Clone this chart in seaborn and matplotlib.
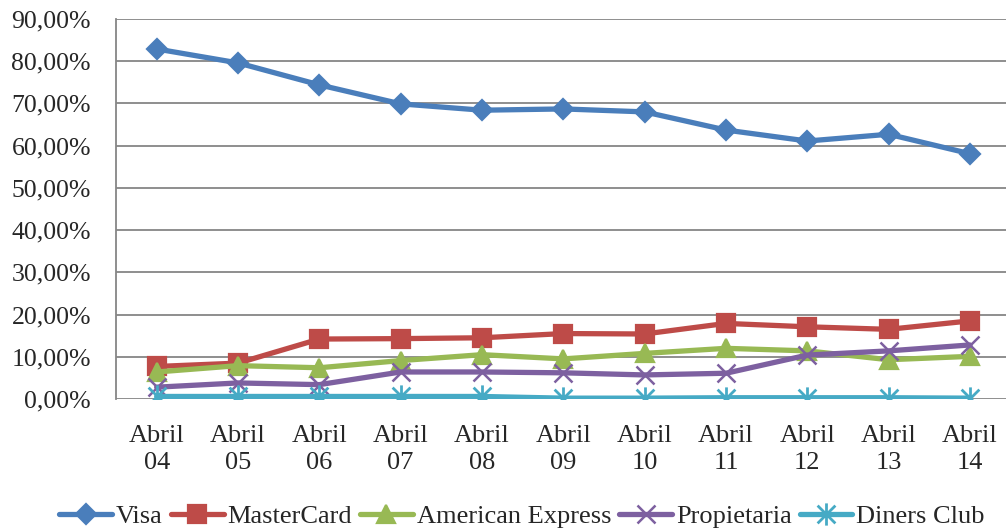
import matplotlib
matplotlib.use("Agg")
import matplotlib.pyplot as plt
import seaborn as sns
import pandas as pd
from matplotlib.ticker import FuncFormatter
from matplotlib.path import Path

categories = ["Abril\n04", "Abril\n05", "Abril\n06", "Abril\n07", "Abril\n08", "Abril\n09",
              "Abril\n10", "Abril\n11", "Abril\n12", "Abril\n13", "Abril\n14"]
visa = [82.9, 79.6, 74.4, 69.9, 68.4, 68.7, 68.0, 63.7, 61.1, 62.7, 58.1]
mastercard = [7.7, 8.5, 14.2, 14.3, 14.5, 15.5, 15.4, 17.9, 17.1, 16.5, 18.5]
amex = [6.4, 7.9, 7.4, 9.1, 10.5, 9.5, 10.8, 12.0, 11.4, 9.3, 10.1]
propietaria = [2.8, 3.8, 3.4, 6.4, 6.4, 6.2, 5.7, 6.1, 10.4, 11.4, 12.8]
diners = [0.6, 0.6, 0.6, 0.6, 0.6, 0.2, 0.2, 0.3, 0.3, 0.3, 0.2]

series = {
    "Visa": visa,
    "MasterCard": mastercard,
    "American Express": amex,
    "Propietaria": propietaria,
    "Diners Club": diners,
}
colors = {
    "Visa": "#4A7EBB",
    "MasterCard": "#BE4B48",
    "American Express": "#98B954",
    "Propietaria": "#7D60A0",
    "Diners Club": "#46AAC5",
}

# asterisk: vertical bar plus an X
ast = Path([(0, -1), (0, 1), (-0.8, -0.8), (0.8, 0.8), (-0.8, 0.8), (0.8, -0.8)],
           [Path.MOVETO, Path.LINETO, Path.MOVETO, Path.LINETO, Path.MOVETO, Path.LINETO])

markers = {
    "Visa": "D",
    "MasterCard": "s",
    "American Express": "^",
    "Propietaria": "x",
    "Diners Club": ast,
}
msizes = {
    "Visa": 10,
    "MasterCard": 13,
    "American Express": 13,
    "Propietaria": 13,
    "Diners Club": 16,
}
mews = {
    "Visa": 1.6,
    "MasterCard": 1.6,
    "American Express": 1.6,
    "Propietaria": 1.8,
    "Diners Club": 2.0,
}

sns.set_style("white")
plt.rcParams["font.family"] = ["Liberation Serif", "DejaVu Serif"]

fig = plt.figure(figsize=(10.06, 5.31), dpi=100)
ax = fig.add_axes([116 / 1006, 1 - 399 / 531, 894.6 / 1006, 380 / 531])

for name, vals in series.items():
    df = pd.DataFrame({"x": categories, "y": vals})
    sns.lineplot(data=df, x="x", y="y", ax=ax, color=colors[name], lw=3.8,
                 marker=markers[name], markersize=msizes[name],
                 mec=colors[name], mfc=colors[name], mew=mews[name], label=name,
                 sort=False)

ax.set_xlim(-0.5, 10.5)
ax.set_ylim(0, 90)
ax.set_yticks(range(0, 91, 10))
ax.yaxis.set_major_formatter(FuncFormatter(lambda v, p: f"{v:.2f}".replace(".", ",") + "%"))
ax.grid(axis="y", color="#868686", lw=1.3)
ax.grid(axis="x", visible=False)
ax.set_axisbelow(True)
for s in ["top", "right", "bottom"]:
    ax.spines[s].set_visible(False)
ax.spines["left"].set_color("#868686")
ax.spines["left"].set_linewidth(1.3)
ax.set_xlabel("")
ax.set_ylabel("")
ax.tick_params(axis="y", labelsize=18.5, length=0, pad=18)
ax.tick_params(axis="x", labelsize=19, length=0, pad=19)
for t in ax.get_xticklabels():
    t.set_linespacing(1.25)

handles, labels = ax.get_legend_handles_labels()
ax.get_legend().remove()
fig.legend(handles, labels, loc="center", bbox_to_anchor=(0.519, 0.027), ncol=5,
           frameon=False, fontsize=19, handlelength=2.0, handletextpad=0.15,
           columnspacing=0.3, borderaxespad=0)

fig.savefig("out.png", dpi=100)
